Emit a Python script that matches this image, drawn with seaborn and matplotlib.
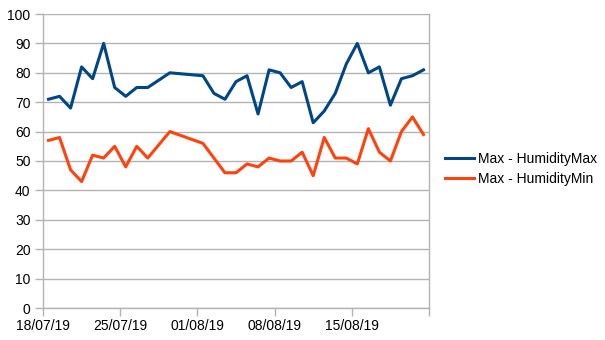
import pandas as pd
import numpy as np
import seaborn as sns
import matplotlib.pyplot as plt
import matplotlib.dates as mdates

# day offsets from 18/07/19 (a few days have no readings)
days = [0, 1, 2, 3, 4, 5, 6, 7, 8, 9, 11, 14, 15, 16, 17, 18, 19, 20, 21, 22,
        23, 24, 25, 26, 27, 28, 29, 30, 31, 32, 33, 34]
humidity_max = [71, 72, 68, 82, 78, 90, 75, 72, 75, 75, 80, 79, 73, 71, 77, 79,
                66, 81, 80, 75, 77, 63, 67, 73, 83, 90, 80, 82, 69, 78, 79, 81]
humidity_min = [57, 58, 47, 43, 52, 51, 55, 48, 55, 51, 60, 56, 51, 46, 46, 49,
                48, 51, 50, 50, 53, 45, 58, 51, 51, 49, 61, 53, 50, 60, 65, 59]
series_names = ['Max - HumidityMax', 'Max - HumidityMin']
tick_dates = ['2019-07-18', '2019-07-25', '2019-08-01', '2019-08-08', '2019-08-15', '2019-08-22']
tick_labels = ['18/07/19', '25/07/19', '01/08/19', '08/08/19', '15/08/19', '']

start = pd.Timestamp('2019-07-18')
dates = [start + pd.Timedelta(days=d) for d in days]
df = pd.DataFrame({
    'date': dates * 2,
    'value': humidity_max + humidity_min,
    'series': [series_names[0]] * len(days) + [series_names[1]] * len(days),
})
# the chart centres each point in its day slot
df['x'] = df['date'] + pd.Timedelta(hours=12)

plt.rcParams['font.family'] = ['Liberation Sans', 'DejaVu Sans']
plt.rcParams['font.size'] = 10

fig = plt.figure(figsize=(6.05, 3.4), dpi=100)
ax = fig.add_axes([43 / 605, 32 / 340, 386 / 605, 294 / 340])

palette = {series_names[0]: '#004586', series_names[1]: '#ff420e'}
sns.lineplot(data=df, x='x', y='value', hue='series', palette=palette,
             linewidth=2.2, ax=ax, sort=True, estimator=None)

ax.set_xlim(pd.Timestamp(tick_dates[0]), pd.Timestamp(tick_dates[-1]))
ax.set_ylim(0, 100)
ax.set_yticks(np.arange(0, 101, 10))
ax.set_xticks([pd.Timestamp(t) for t in tick_dates])
ax.set_xticklabels(tick_labels)
ax.set_xlabel('')
ax.set_ylabel('')

grid_col = '#b3b3b3'
ax.grid(axis='y', color=grid_col, linewidth=1)
ax.set_axisbelow(True)
for side in ['left', 'bottom', 'right']:
    ax.spines[side].set_color(grid_col)
    ax.spines[side].set_linewidth(1)
ax.spines['top'].set_visible(False)
ax.tick_params(axis='both', color=grid_col, length=6, width=1, labelcolor='black')
ax.tick_params(axis='y', pad=3)
ax.tick_params(axis='x', pad=2)

ax.legend(loc='center left', bbox_to_anchor=(445 / 605, (340 - 169) / 340),
          bbox_transform=fig.transFigure, frameon=False, borderpad=0,
          handlelength=2.1, handletextpad=0.3, labelspacing=0.45, borderaxespad=0)

fig.savefig('out.png', dpi=100)
